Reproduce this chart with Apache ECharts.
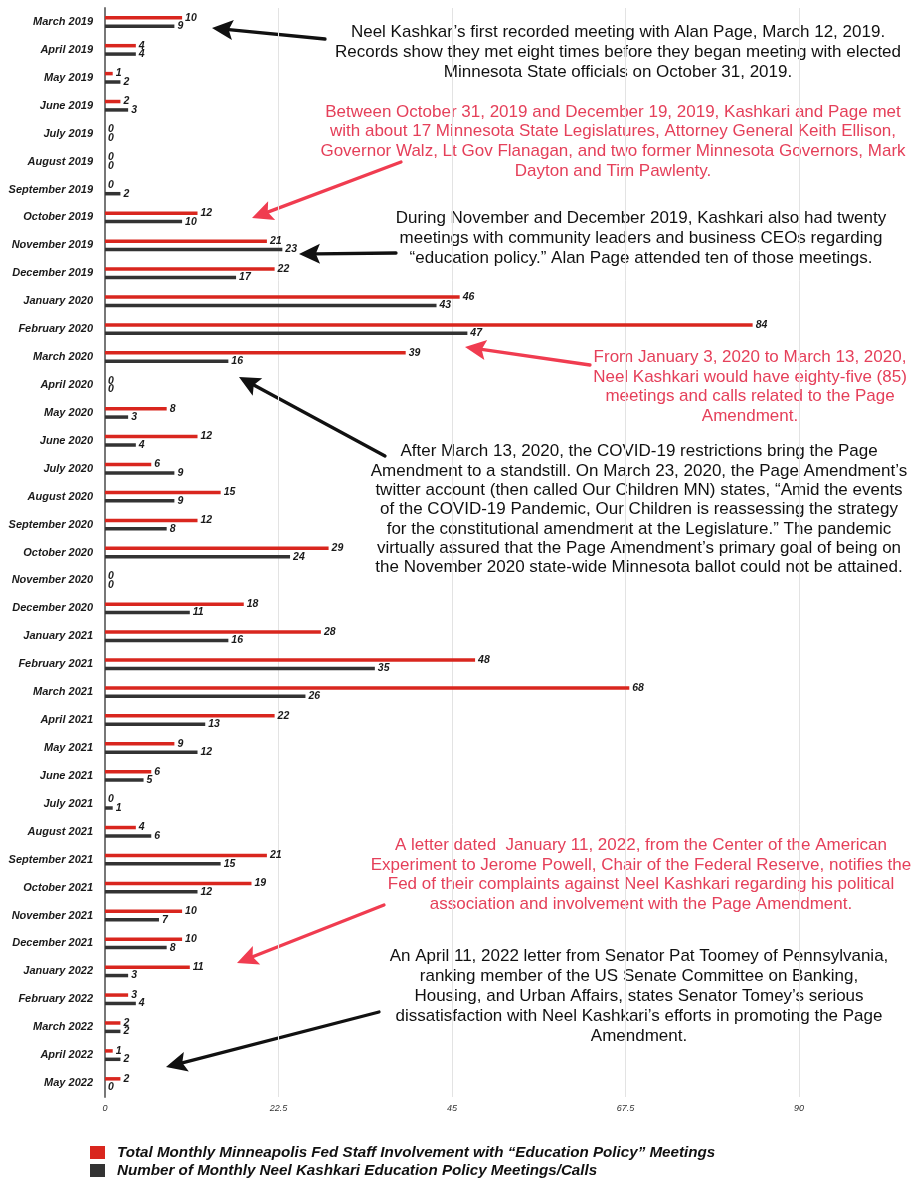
<!DOCTYPE html>
<html>
<head>
<meta charset="utf-8">
<script src="https://cdn.jsdelivr.net/npm/echarts@6/dist/echarts.min.js"></script>
<style>
html,body{margin:0;padding:0;background:#fff;}
#chart{width:914px;height:1180px;}
</style>
</head>
<body>
<div id="chart"></div>
<script>
const categories = ['March 2019','April 2019','May 2019','June 2019','July 2019','August 2019','September 2019','October 2019','November 2019','December 2019',
'January 2020','February 2020','March 2020','April 2020','May 2020','June 2020','July 2020','August 2020','September 2020','October 2020','November 2020','December 2020',
'January 2021','February 2021','March 2021','April 2021','May 2021','June 2021','July 2021','August 2021','September 2021','October 2021','November 2021','December 2021',
'January 2022','February 2022','March 2022','April 2022','May 2022'];
const totalStaff = [10,4,1,2,0,0,0,12,21,22, 46,84,39,0,8,12,6,15,12,29,0,18, 28,48,68,22,9,6,0,4,21,19,10,10, 11,3,2,1,2];
const kashkari   = [9,4,2,3,0,0,2,10,23,17, 43,47,16,0,3,4,9,9,8,24,0,11, 16,35,26,13,12,5,1,6,15,12,7,8, 3,4,2,2,0];
const seriesNames = ['Total Monthly Minneapolis Fed Staff Involvement with \u201cEducation Policy\u201d Meetings',
                     'Number of Monthly Neel Kashkari Education Policy Meetings/Calls'];
const xMin = 0, xMax = 112.5, xInterval = 22.5;

const notes = [
  {x:618, top:22, lh:20, color:'#111', text:'Neel Kashkar\u2019s first recorded meeting with Alan Page, March 12, 2019.\nRecords show they met eight times before they began meeting with elected\nMinnesota State officials on October 31, 2019.'},
  {x:613, top:102, lh:19.7, color:'#e5405a', text:'Between October 31, 2019 and December 19, 2019, Kashkari and Page met\nwith about 17 Minnesota State Legislatures, Attorney General Keith Ellison,\nGovernor Walz, Lt Gov Flanagan, and two former Minnesota Governors, Mark\nDayton and Tim Pawlenty.'},
  {x:641, top:208, lh:20, color:'#111', text:'During November and December 2019, Kashkari also had twenty\nmeetings with community leaders and business CEOs regarding\n\u201ceducation policy.\u201d Alan Page attended ten of those meetings.'},
  {x:750, top:348, lh:19.5, color:'#e5405a', text:'From January 3, 2020 to March 13, 2020,\nNeel Kashkari would have eighty-five (85)\nmeetings and calls related to the Page\nAmendment.'},
  {x:639, top:442, lh:19.3, color:'#111', text:'After March 13, 2020, the COVID-19 restrictions bring the Page\nAmendment to a standstill. On March 23, 2020, the Page Amendment\u2019s\ntwitter account (then called Our Children MN) states, \u201cAmid the events\nof the COVID-19 Pandemic, Our Children is reassessing the strategy\nfor the constitutional amendment at the Legislature.\u201d The pandemic\nvirtually assured that the Page Amendment\u2019s primary goal of being on\nthe November 2020 state-wide Minnesota ballot could not be attained.'},
  {x:641, top:836, lh:19.4, color:'#e5405a', text:'A letter dated  January 11, 2022, from the Center of the American\nExperiment to Jerome Powell, Chair of the Federal Reserve, notifies the\nFed of their complaints against Neel Kashkari regarding his political\nassociation and involvement with the Page Amendment.'},
  {x:639, top:946, lh:20, color:'#111', text:'An April 11, 2022 letter from Senator Pat Toomey of Pennsylvania,\nranking member of the US Senate Committee on Banking,\nHousing, and Urban Affairs, states Senator Tomey\u2019s serious\ndissatisfaction with Neel Kashkari\u2019s efforts in promoting the Page\nAmendment.'}
];
const arrows = [
  {x1:325, y1:39, x2:212, y2:28, color:'#111'},
  {x1:401, y1:162, x2:252, y2:218, color:'#f03c50'},
  {x1:396, y1:253, x2:299, y2:254, color:'#111'},
  {x1:590, y1:365, x2:465, y2:347, color:'#f03c50'},
  {x1:385, y1:456, x2:239, y2:377, color:'#111'},
  {x1:384, y1:905, x2:237, y2:963, color:'#f03c50'},
  {x1:379, y1:1012, x2:166, y2:1067, color:'#111'}
];

function arrowGraphics(a){
  const dx = a.x2 - a.x1, dy = a.y2 - a.y1;
  const len = Math.sqrt(dx*dx + dy*dy);
  const ux = dx/len, uy = dy/len;
  const hl = 21, hw = 10;
  const bx = a.x2 - ux*hl, by = a.y2 - uy*hl;
  const nx = -uy, ny = ux;
  const mx = a.x2 - ux*hl*0.8, my = a.y2 - uy*hl*0.8;
  return [
    {type:'line', silent:true, shape:{x1:a.x1, y1:a.y1, x2:mx, y2:my}, style:{stroke:a.color, lineWidth:3.3, lineCap:'round'}},
    {type:'polygon', silent:true, shape:{points:[[a.x2,a.y2],[bx+nx*hw, by+ny*hw],[mx,my],[bx-nx*hw, by-ny*hw]]}, style:{fill:a.color}}
  ];
}

const graphics = [];
notes.forEach(n => {
  graphics.push({type:'text', silent:true, x:n.x, y:n.top, style:{
    text:n.text, fill:n.color, align:'center', verticalAlign:'top',
    font:'17px "Liberation Sans", Arial, sans-serif', lineHeight:n.lh
  }});
});
arrows.forEach(a => arrowGraphics(a).forEach(g => graphics.push(g)));

const labelStyle = {show:true, position:'right', distance:3, color:'#1a1a1a', fontSize:10.5,
  fontStyle:'italic', fontWeight:'bold', fontFamily:'"Liberation Sans", Arial, sans-serif'};

const legendBase = {
  orient:'horizontal', left:90, padding:0, itemWidth:15, itemHeight:13,
  icon:'rect', selectedMode:false,
  textStyle:{fontSize:15.2, fontStyle:'italic', fontWeight:'bold', color:'#111',
    fontFamily:'"Liberation Sans", Arial, sans-serif', padding:[0,0,0,7]}
};

const chart = echarts.init(document.getElementById('chart'), null, {renderer:'canvas'});
chart.setOption({
  animation:false,
  backgroundColor:'#fff',
  grid:{left:105, top:8, width:(xMax-xMin)*7.71, height:1089, containLabel:false, outerBoundsMode:'none'},
  legend:[
    Object.assign({}, legendBase, {top:1145, data:[seriesNames[0]]}),
    Object.assign({}, legendBase, {top:1163, data:[seriesNames[1]]})
  ],
  xAxis:{
    type:'value', min:xMin, max:xMax, interval:xInterval,
    axisLine:{show:false}, axisTick:{show:false},
    splitLine:{show:true, lineStyle:{color:'#e3e3e3', width:1}},
    axisLabel:{color:'#333', fontSize:9, fontStyle:'italic', margin:7,
      fontFamily:'"Liberation Sans Narrow", "Liberation Sans", Arial, sans-serif'}
  },
  yAxis:{
    type:'category', inverse:true, data:categories,
    axisLine:{show:true, lineStyle:{color:'#777', width:2}},
    axisTick:{show:false},
    axisLabel:{color:'#1a1a1a', fontSize:11, fontStyle:'italic', fontWeight:'bold', margin:12,
      fontFamily:'"Liberation Sans", Arial, sans-serif'}
  },
  series:[
    {name:seriesNames[0], type:'bar', data:totalStaff, barWidth:3.5, barGap:'140%',
      itemStyle:{color:'#d9261e'}, label:labelStyle},
    {name:seriesNames[1], type:'bar', data:kashkari, barWidth:3.5, barGap:'140%',
      itemStyle:{color:'#333333'}, label:labelStyle}
  ],
  graphic:graphics
});
</script>
</body>
</html>
